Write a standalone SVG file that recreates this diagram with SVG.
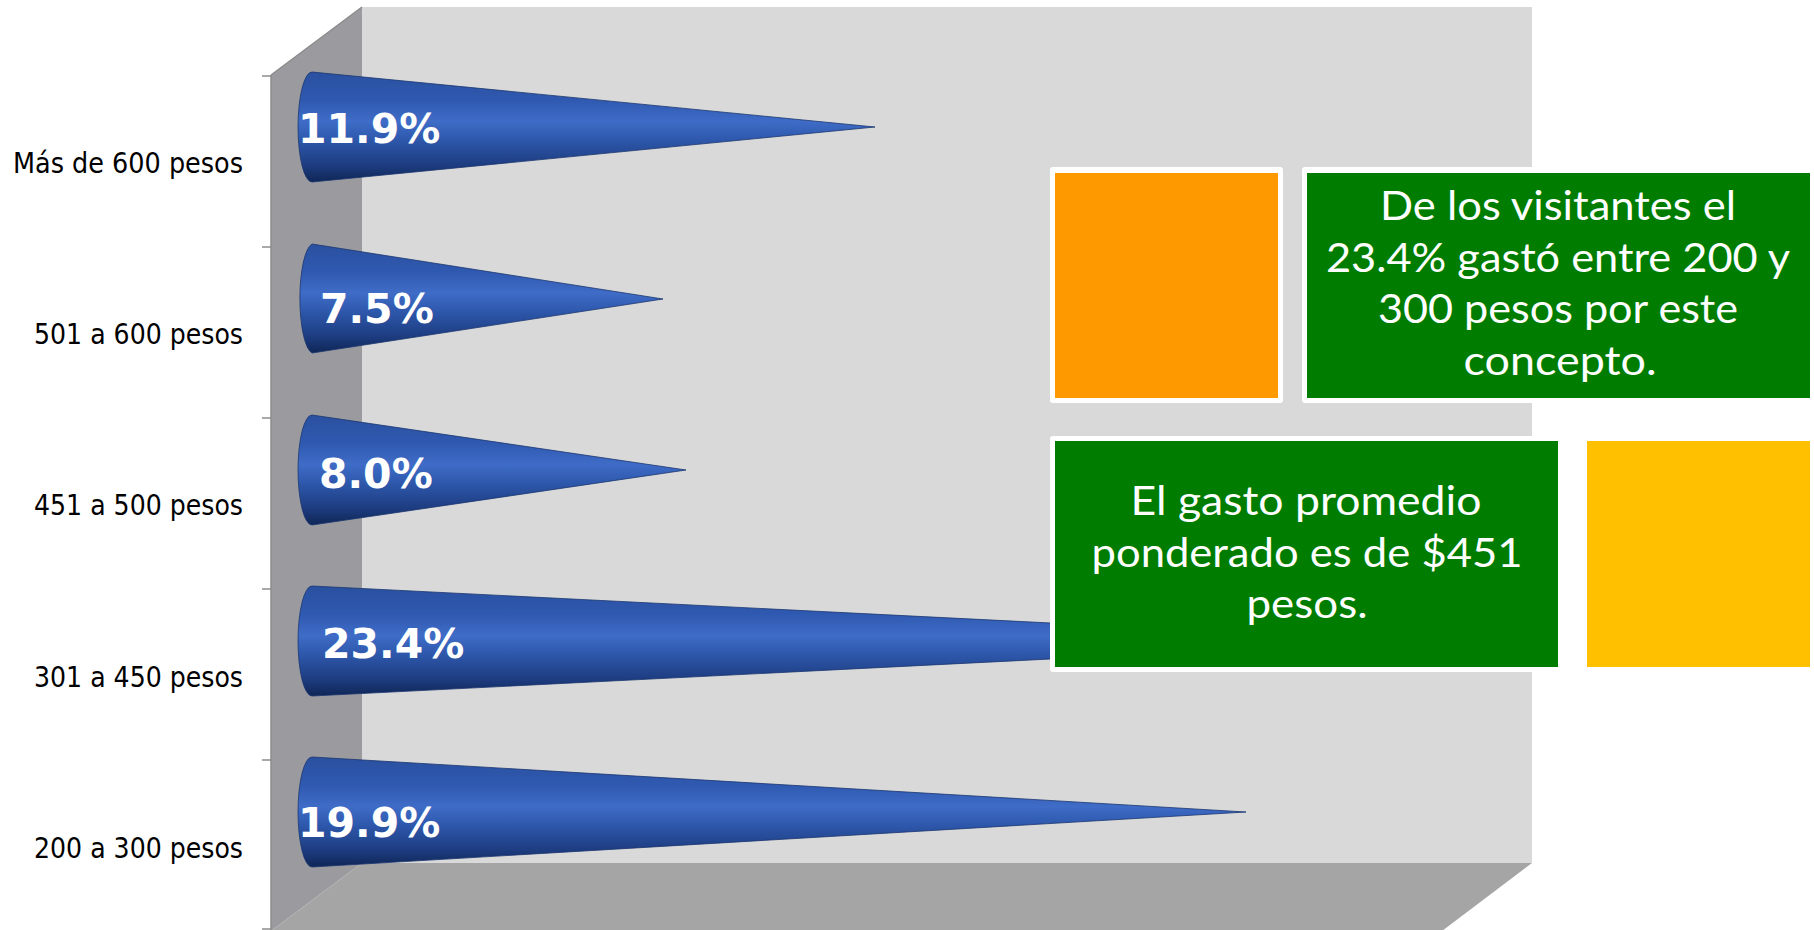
<svg xmlns="http://www.w3.org/2000/svg" width="1814" height="930" viewBox="0 0 1814 930">
<defs>
<linearGradient id="cone" x1="0" y1="0" x2="0" y2="1">
<stop offset="0" stop-color="#2a509f"/>
<stop offset="0.25" stop-color="#2f59b0"/>
<stop offset="0.45" stop-color="#3f6cc7"/>
<stop offset="0.6" stop-color="#2f5aaf"/>
<stop offset="0.85" stop-color="#1d3c80"/>
<stop offset="1" stop-color="#0f2656"/>
</linearGradient>
<style>
.cone{fill:url(#cone);stroke:#1b3670;stroke-width:0.8}
.cat{font-family:"DejaVu Sans",Verdana,sans-serif;font-size:29px;fill:#000;text-anchor:end}
.pct{font-family:"DejaVu Sans","Liberation Sans",sans-serif;font-weight:bold;font-size:41px;fill:#fff}
.note{font-family:Lato,"Open Sans",sans-serif;font-size:40px;fill:#fff;text-anchor:middle}
.tick{stroke:#8c8c8c;stroke-width:1.5}
</style>
</defs>
<rect width="1814" height="930" fill="#ffffff"/>
<g id="chart-frame">
<rect x="362" y="7" width="1170" height="856" fill="#d9d9d9"/>
<polygon points="271,75 362,7 362,863 271,931" fill="#9b9b9f"/>
<polygon points="362,863 1532,863 1442,931 271,931" fill="#a5a5a5"/>
<line x1="271" y1="75" x2="362" y2="7" stroke="#8c8c8c" stroke-width="1.5"/>
<line x1="271" y1="75" x2="271" y2="931" stroke="#8c8c8c" stroke-width="1.5"/>
<line class="tick" x1="262" y1="76" x2="271" y2="76"/>
<line class="tick" x1="262" y1="247" x2="271" y2="247"/>
<line class="tick" x1="262" y1="418" x2="271" y2="418"/>
<line class="tick" x1="262" y1="589" x2="271" y2="589"/>
<line class="tick" x1="262" y1="760" x2="271" y2="760"/>
<line class="tick" x1="262" y1="929" x2="271" y2="929"/>
</g>
<g id="category-labels">
<text class="cat" x="243" y="173" textLength="230" lengthAdjust="spacingAndGlyphs">Más de 600 pesos</text>
<text class="cat" x="243" y="344" textLength="209" lengthAdjust="spacingAndGlyphs">501 a 600 pesos</text>
<text class="cat" x="243" y="515" textLength="209" lengthAdjust="spacingAndGlyphs">451 a 500 pesos</text>
<text class="cat" x="243" y="687" textLength="209" lengthAdjust="spacingAndGlyphs">301 a 450 pesos</text>
<text class="cat" x="243" y="858" textLength="209" lengthAdjust="spacingAndGlyphs">200 a 300 pesos</text>
</g>
<g id="bar-mas-600">
<path class="cone" d="M312,72 L875,127 L312,182 A14,55 0 0 1 312,72 Z"/>
<text class="pct" x="298" y="143">11.9%</text>
</g>
<g id="bar-501-600">
<path class="cone" d="M312,244 L663,299 L312,353 A14,55 0 0 1 312,244 Z"/>
<text class="pct" x="320" y="323">7.5%</text>
</g>
<g id="bar-451-500">
<path class="cone" d="M312,415 L686,470 L312,525 A14,55 0 0 1 312,415 Z"/>
<text class="pct" x="319" y="488">8.0%</text>
</g>
<g id="bar-301-450">
<path class="cone" d="M312,586 L1410,641 L312,696 A14,55 0 0 1 312,586 Z"/>
<text class="pct" x="322" y="658">23.4%</text>
</g>
<g id="bar-200-300">
<path class="cone" d="M312,757 L1246,812 L312,867 A14,55 0 0 1 312,757 Z"/>
<text class="pct" x="298" y="837">19.9%</text>
</g>
<g id="orange-square">
<rect x="1050" y="167" width="233" height="236" rx="3" fill="#ffffff"/>
<rect x="1055" y="173" width="223" height="225" fill="#ff9900"/>
</g>
<g id="note-top">
<rect x="1302" y="167" width="512" height="236" rx="3" fill="#ffffff"/>
<rect x="1307" y="173" width="503" height="225" fill="#007d00"/>
<text class="note" x="1558" y="220" textLength="356" lengthAdjust="spacingAndGlyphs">De los visitantes el</text>
<text class="note" x="1558" y="272" textLength="464" lengthAdjust="spacingAndGlyphs">23.4% gastó entre 200 y</text>
<text class="note" x="1558" y="323" textLength="360" lengthAdjust="spacingAndGlyphs">300 pesos por este</text>
<text class="note" x="1560" y="375" textLength="193" lengthAdjust="spacingAndGlyphs">concepto.</text>
</g>
<g id="note-bottom">
<rect x="1050" y="436" width="513" height="236" rx="3" fill="#ffffff"/>
<rect x="1055" y="441" width="503" height="226" fill="#007d00"/>
<text class="note" x="1306" y="515" textLength="351" lengthAdjust="spacingAndGlyphs">El gasto promedio</text>
<text class="note" x="1307" y="567" textLength="431" lengthAdjust="spacingAndGlyphs">ponderado es de $451</text>
<text class="note" x="1307" y="618" textLength="121" lengthAdjust="spacingAndGlyphs">pesos.</text>
</g>
<g id="yellow-square">
<rect x="1587" y="441" width="223" height="226" fill="#ffc000"/>
</g>
</svg>
